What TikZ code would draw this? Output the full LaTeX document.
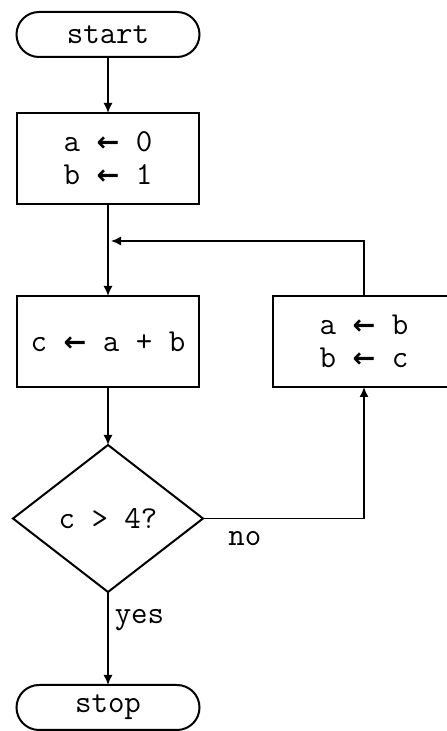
\documentclass[tikz,border=0pt]{standalone}
\usepackage{fontspec}
\newfontfamily\arrowfont{DejaVu Sans}[Scale=0.85]
\newcommand\assign{{\arrowfont\bfseries ←}}
\usetikzlibrary{arrows.meta,positioning,shapes.geometric}
\tikzset{
  arr/.style={-{Latex[length=5pt,width=4.5pt]},line width=0.75pt},
  term/.style={draw,line width=1pt,rounded corners=11.25pt,minimum width=91.5pt,minimum height=22.5pt,outer sep=0pt},
  procbox/.style={draw,line width=1pt,minimum width=91pt,minimum height=45.5pt,align=center,outer sep=0pt},
  decision/.style={draw,line width=1pt,diamond,minimum width=95pt,minimum height=73.5pt,inner sep=0pt,outer sep=0pt}
}
\begin{document}
\begin{tikzpicture}[x=0.5pt,y=0.5pt,font=\ttfamily\fontsize{16}{16.5}\selectfont]
  \useasboundingbox (0,0) rectangle (446,731);
  \node[term] (start) at (108,696.5) {start};
  \node[procbox,below=28pt of start] (init) {a \assign{} 0\\b \assign{} 1};
  \node[procbox,below=46pt of init] (sum) {c \assign{} a + b};
  \node[decision,below=29pt of sum] (test) {c > 4?};
  \node[term,below=46.5pt of test] (stop) {stop};
  \node[procbox,right=37pt of sum] (shift) {a \assign{} b\\b \assign{} c};
  \coordinate[above right=27.5pt and 1.5pt of sum.north] (join);
  \draw[arr] (start)--(init);\draw[arr] (init)--(sum);\draw[arr] (sum)--(test);
  \draw[arr] (test)-- node[right,pos=.3,inner sep=3pt] {yes} (stop);
  \draw[arr] (test.east)-| node[below,pos=.13,inner sep=6pt] {no} (shift.south);
  \draw[arr] (shift.north)|-(join);
\end{tikzpicture}
\end{document}
